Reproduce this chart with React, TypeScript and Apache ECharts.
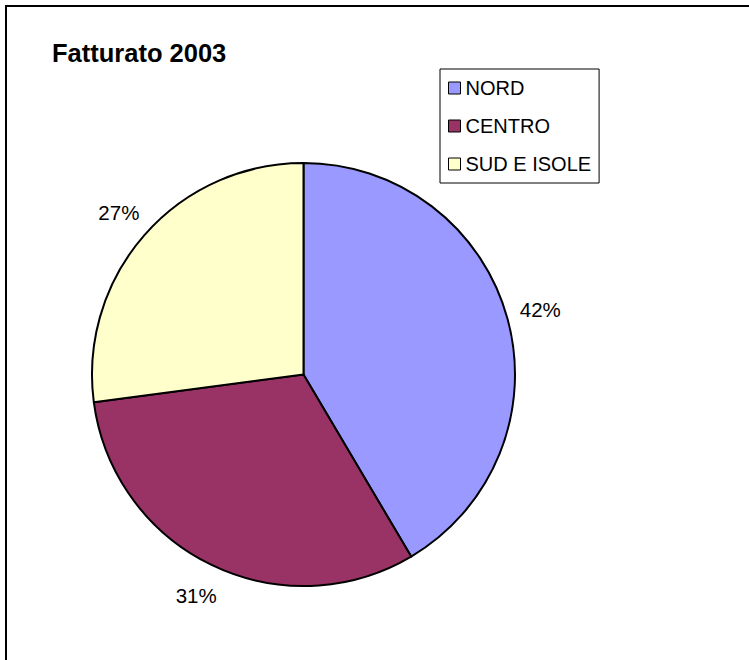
import React, { useEffect, useRef } from "react";
import * as echarts from "echarts";

const categories = ["NORD", "CENTRO", "SUD E ISOLE"];
const values = [41.5, 31.4, 27.1];
const colors = ["#9999FF", "#993366", "#FFFFCC"];
const titleText = "Fatturato 2003";

const FONT = "'Liberation Sans', Arial, sans-serif";

export default function App() {
  const ref = useRef<HTMLDivElement>(null);
  useEffect(() => {
    if (!ref.current) return;
    const chart = echarts.init(ref.current, undefined, { renderer: "svg" });
    chart.setOption({
      animation: false,
      backgroundColor: "#ffffff",
      title: {
        text: titleText,
        left: 52,
        top: 39,
        padding: 0,
        textStyle: { fontFamily: FONT, fontSize: 25.5, fontWeight: "bold", color: "#000", lineHeight: 28 },
      },
      legend: {
        orient: "vertical",
        left: 440,
        top: 69,
        padding: [9, 8, 9, 8],
        itemGap: 18,
        itemWidth: 12,
        itemHeight: 12,
        itemTextGap: 10,
        icon: "rect",
        borderColor: "#000",
        borderWidth: 1,
        itemStyle: { borderColor: "#000", borderWidth: 1 },
        textStyle: { fontFamily: FONT, fontSize: 20, color: "#000", lineHeight: 20 },
        data: categories,
      },
      graphic: [
        {
          type: "rect",
          shape: { x: 6, y: 6, width: 800, height: 700 },
          style: { fill: "none", stroke: "#000", lineWidth: 2 },
          silent: true,
        },
      ],
      series: [
        {
          type: "pie",
          center: [303.5, 374.5],
          radius: 211.5,
          startAngle: 90,
          clockwise: true,
          avoidLabelOverlap: false,
          percentPrecision: 0,
          itemStyle: { borderColor: "#000", borderWidth: 2 },
          label: {
            show: true,
            position: "outside",
            formatter: "{d}%",
            fontFamily: FONT,
            fontSize: 20.5,
            color: "#000",
            distanceToLabelLine: 0,
          },
          labelLine: { show: false, length: 34, length2: 0 },
          labelLayout: () => ({ align: "center", verticalAlign: "middle" }),
          emphasis: { disabled: true },
          data: categories.map((name, i) => ({
            name,
            value: values[i],
            itemStyle: { color: colors[i] },
          })),
        },
      ],
    });
    return () => chart.dispose();
  }, []);
  return (
    <div
      ref={ref}
      style={{ position: "absolute", left: 0, top: 0, width: 749, height: 660 }}
    />
  );
}
